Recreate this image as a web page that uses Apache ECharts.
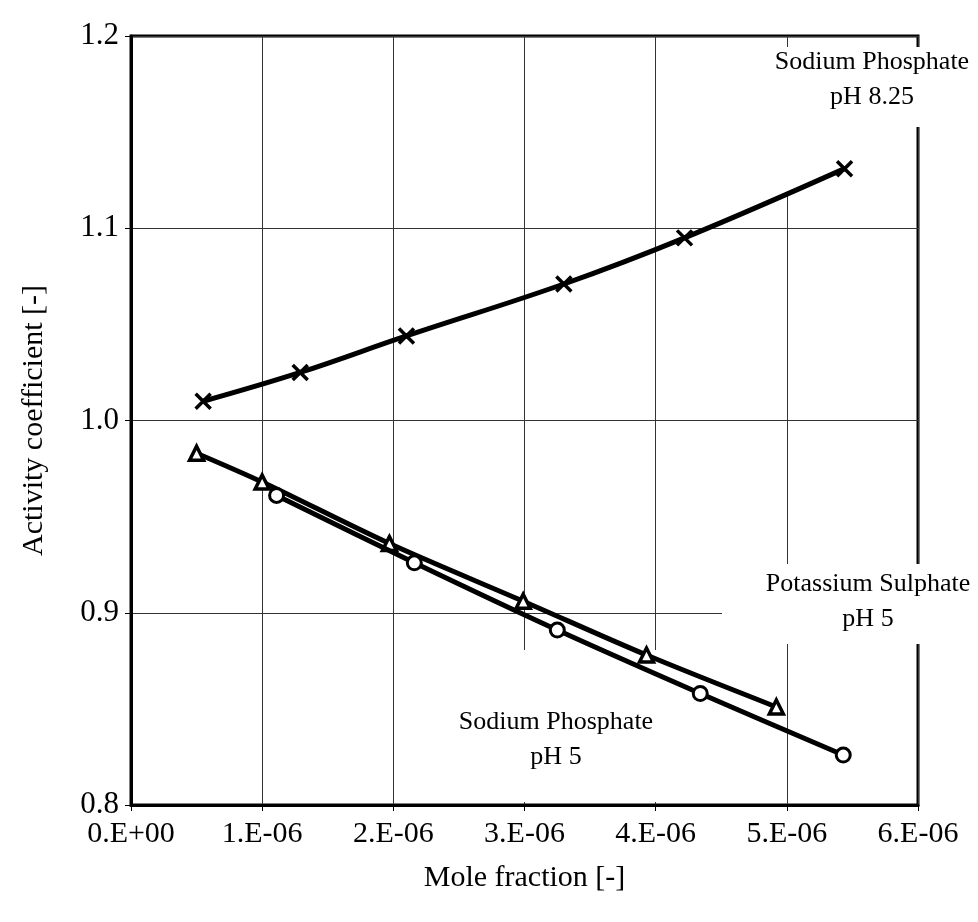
<!DOCTYPE html>
<html>
<head>
<meta charset="utf-8">
<script src="https://cdn.jsdelivr.net/npm/echarts@6/dist/echarts.min.js"></script>
<style>
  html, body { margin: 0; padding: 0; background: #fff; }
  #chart { width: 978px; height: 922px; }
</style>
</head>
<body>
<div id="chart"></div>
<script>
// mole fraction / activity coefficient
var naPh825X = [0.55e-6, 1.29e-6, 2.10e-6, 3.30e-6, 4.22e-6, 5.44e-6];
var naPh825Y = [1.010, 1.025, 1.044, 1.071, 1.095, 1.131];

var kSulph5X = [0.50e-6, 1.00e-6, 1.97e-6, 2.99e-6, 3.93e-6, 4.92e-6];
var kSulph5Y = [0.983, 0.968, 0.936, 0.906, 0.878, 0.851];

var naPh5X = [1.11e-6, 2.16e-6, 3.25e-6, 4.34e-6, 5.43e-6];
var naPh5Y = [0.961, 0.926, 0.891, 0.858, 0.826];

var xTickLabels = ['0.E+00', '1.E-06', '2.E-06', '3.E-06', '4.E-06', '5.E-06', '6.E-06'];
var yTickLabels = ['0.8', '0.9', '1.0', '1.1', '1.2'];

function pairs(xs, ys) {
    var res = [];
    for (var i = 0; i < xs.length; i++) res.push([xs[i], ys[i]]);
    return res;
}

var font = '"Liberation Serif", "DejaVu Serif", serif';
var mychart = echarts.init(document.getElementById('chart'));

var lineStyle = { color: '#000', width: 5 };

var option = {
    animation: false,
    backgroundColor: '#fff',
    grid: {
        left: 131, right: 60, top: 36, bottom: 117,
        show: true, borderColor: '#000', borderWidth: 3
    },
    xAxis: {
        type: 'value',
        min: 0, max: 6e-6, interval: 1e-6,
        name: 'Mole fraction [-]',
        nameLocation: 'middle',
        nameGap: 58,
        nameTextStyle: { fontFamily: font, fontSize: 30, color: '#000' },
        axisLine: { lineStyle: { color: '#000', width: 3 } },
        axisTick: { show: true, length: 6, lineStyle: { color: '#000', width: 1 } },
        axisLabel: {
            fontFamily: font, fontSize: 30, color: '#000', margin: 14,
            formatter: function (v) {
                return xTickLabels[Math.round(v / 1e-6)];
            }
        },
        splitLine: { show: true, lineStyle: { color: '#333', width: 1 } }
    },
    yAxis: {
        type: 'value',
        min: 0.8, max: 1.2, interval: 0.1,
        name: 'Activity coefficient [-]',
        nameLocation: 'middle',
        nameGap: 82,
        nameTextStyle: { fontFamily: font, fontSize: 30, color: '#000' },
        axisLine: { lineStyle: { color: '#000', width: 3 } },
        axisTick: { show: true, length: 6, lineStyle: { color: '#000', width: 1 } },
        axisLabel: {
            fontFamily: font, fontSize: 31, color: '#000', margin: 12,
            formatter: function (v) {
                return yTickLabels[Math.round((v - 0.8) / 0.1)];
            }
        },
        splitLine: { show: true, lineStyle: { color: '#333', width: 1 } }
    },
    series: [
        {
            name: 'Sodium Phosphate pH 8.25',
            type: 'line',
            smooth: 0.4,
            data: pairs(naPh825X, naPh825Y),
            lineStyle: lineStyle,
            symbol: 'path://M0,0L10,10M10,0L0,10',
            symbolSize: 15,
            itemStyle: { color: 'none', borderColor: '#000', borderWidth: 3.5 },
            z: 5
        },
        {
            name: 'Potassium Sulphate pH 5',
            type: 'line',
            smooth: 0.3,
            data: pairs(kSulph5X, kSulph5Y),
            lineStyle: lineStyle,
            symbol: 'triangle',
            symbolSize: 14,
            itemStyle: { color: '#fff', borderColor: '#000', borderWidth: 3.5 },
            z: 5
        },
        {
            name: 'Sodium Phosphate pH 5',
            type: 'line',
            smooth: 0.3,
            data: pairs(naPh5X, naPh5Y),
            lineStyle: lineStyle,
            symbol: 'circle',
            symbolSize: 14,
            itemStyle: { color: '#fff', borderColor: '#000', borderWidth: 3 },
            z: 6
        }
    ],
    graphic: [
        // white patches behind the labels, hiding frame and grid as in the scan
        { type: 'rect', z: 50, shape: { x: 745, y: 47, width: 233, height: 80 }, style: { fill: '#fff' } },
        { type: 'rect', z: 1, shape: { x: 760, y: 47, width: 60, height: 146 }, style: { fill: '#fff' } },
        { type: 'rect', z: 50, shape: { x: 722, y: 564, width: 256, height: 80 }, style: { fill: '#fff' } },
        { type: 'rect', z: 1, shape: { x: 440, y: 650, width: 260, height: 152 }, style: { fill: '#fff' } },
        {
            type: 'text', z: 60, x: 872, y: 80,
            style: {
                text: 'Sodium Phosphate\npH 8.25', fontFamily: font, fontSize: 26,
                fill: '#000', align: 'center', verticalAlign: 'middle', lineHeight: 35
            }
        },
        {
            type: 'text', z: 60, x: 868, y: 602,
            style: {
                text: 'Potassium Sulphate\npH 5', fontFamily: font, fontSize: 26,
                fill: '#000', align: 'center', verticalAlign: 'middle', lineHeight: 35
            }
        },
        {
            type: 'text', z: 60, x: 556, y: 740,
            style: {
                text: 'Sodium Phosphate\npH 5', fontFamily: font, fontSize: 26,
                fill: '#000', align: 'center', verticalAlign: 'middle', lineHeight: 35
            }
        }
    ]
};

mychart.setOption(option);
</script>
</body>
</html>
